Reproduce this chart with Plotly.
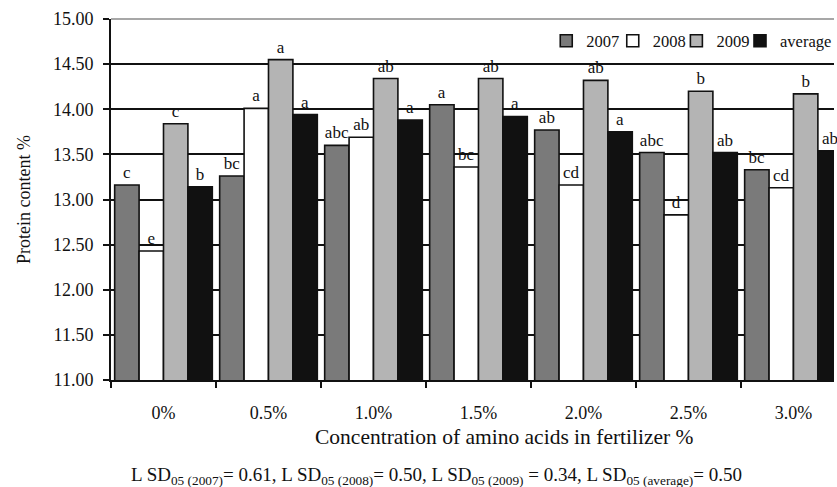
import plotly.graph_objects as go

# Amino-acid concentrations in the fertilizer (x categories)
concentrations = ["0%", "0.5%", "1.0%", "1.5%", "2.0%", "2.5%", "3.0%"]

# Protein content (%) per season
protein_2007 = [13.16, 13.26, 13.60, 14.05, 13.77, 13.52, 13.33]
protein_2008 = [12.43, 14.01, 13.69, 13.36, 13.16, 12.83, 13.13]
protein_2009 = [13.84, 14.55, 14.34, 14.34, 14.32, 14.20, 14.17]
protein_avg = [13.14, 13.94, 13.88, 13.92, 13.75, 13.52, 13.54]

# Homogeneous-group letters
letters_2007 = ["c", "bc", "abc", "a", "ab", "abc", "bc"]
letters_2008 = ["e", "a", "ab", "bc", "cd", "d", "cd"]
letters_2009 = ["c", "a", "ab", "ab", "ab", "b", "b"]
letters_avg = ["b", "a", "a", "a", "a", "ab", "ab"]

y_ticks = [11.0, 11.5, 12.0, 12.5, 13.0, 13.5, 14.0, 14.5, 15.0]

FONT = "Liberation Serif"
INK = "#111111"

# name, values, letters, fill colour, legend id, legend x (paper)
series = [
    ("2007", protein_2007, letters_2007, "#7a7a7a", "legend", 0.602),
    ("2008", protein_2008, letters_2008, "#ffffff", "legend2", 0.694),
    ("2009", protein_2009, letters_2009, "#b4b4b4", "legend3", 0.782),
    ("average", protein_avg, letters_avg, INK, "legend4", 0.870),
]

fig = go.Figure()
legend_layouts = {}
for name, values, letters, color, legend_id, legend_x in series:
    fig.add_trace(go.Bar(
        name=name,
        x=concentrations,
        y=values,
        base=0,
        text=letters,
        textposition="outside",
        textfont=dict(family=FONT, size=17, color=INK),
        cliponaxis=False,
        marker=dict(color=color, line=dict(color=INK, width=1.6)),
        legend=legend_id,
    ))
    legend_layouts[legend_id] = dict(
        orientation="h",
        x=legend_x, xanchor="left",
        y=0.939, yanchor="middle",
        font=dict(family=FONT, size=16.5, color=INK),
        bgcolor="rgba(255,255,255,0)",
        itemwidth=30,
    )

fig.update_layout(
    width=837,
    height=487,
    margin=dict(l=111, r=0, t=19, b=107),
    paper_bgcolor="white",
    plot_bgcolor="white",
    barmode="group",
    bargap=0.07,
    bargroupgap=0,
    font=dict(family=FONT, size=18, color=INK),
    showlegend=True,
    xaxis=dict(
        type="category",
        range=[-0.5, 6.386],
        showgrid=False,
        showline=True, linecolor=INK, linewidth=2,
        ticks="outside", tickson="boundaries", ticklen=6, tickwidth=2,
        tickcolor=INK,
        ticklabelstandoff=15,
        tickfont=dict(family=FONT, size=18),
    ),
    yaxis=dict(
        range=[11, 15],
        tickvals=y_ticks,
        tickformat=".2f",
        showgrid=True, gridcolor=INK, gridwidth=2,
        showline=True, linecolor=INK, linewidth=2,
        ticks="outside", ticklen=6, tickwidth=2, tickcolor=INK,
        ticklabelstandoff=6,
        tickfont=dict(family=FONT, size=18),
        title=dict(text="Protein content %", font=dict(family=FONT, size=18),
                   standoff=18),
        zeroline=False,
    ),
    annotations=[
        dict(
            text="Concentration of amino acids in fertilizer %",
            xref="paper", yref="paper",
            x=0.544, y=-0.158, xanchor="center", yanchor="middle",
            showarrow=False,
            font=dict(family=FONT, size=21.5, color=INK),
        ),
        dict(
            text=("L SD<sub>05 (2007)</sub>= 0.61, L SD<sub>05 (2008)</sub>= 0.50, "
                  "L SD<sub>05 (2009)</sub> = 0.34, L SD<sub>05 (average)</sub>= 0.50"),
            xref="paper", yref="paper",
            x=0.45, y=-0.265, xanchor="center", yanchor="middle",
            showarrow=False,
            font=dict(family=FONT, size=19, color=INK),
        ),
    ],
    shapes=[
        # thin grey frame line along the top of the plot area
        dict(type="line", xref="paper", yref="paper", x0=0, x1=1, y0=1, y1=1,
             line=dict(color="#8a8a8a", width=1.5)),
    ],
    **legend_layouts,
)

fig.write_html("out.html")
